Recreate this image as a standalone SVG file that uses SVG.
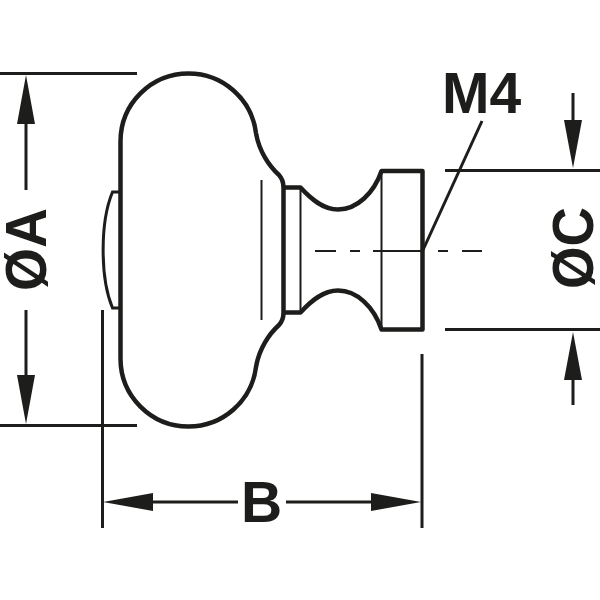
<svg xmlns="http://www.w3.org/2000/svg" width="600" height="600" viewBox="0 0 600 600">
<style>
.o{fill:none;stroke:#1d1d1b;stroke-width:4.500;stroke-linejoin:round}
.c{fill:none;stroke:#1d1d1b;stroke-width:3}
.t{fill:none;stroke:#1d1d1b;stroke-width:2}
.a{fill:#1d1d1b}
text{font-family:"Liberation Sans",Arial,sans-serif;font-weight:700;font-size:57px;fill:#1d1d1b}
</style>
<g id="knob">
<path class="o" d="M120.500 250V141.500A68 68 0 0 1 188.500 73.500A68 68 0 0 1 256 133C259 151 269 166 279 175Q283.500 180 283.500 187.500V312.500Q283.500 320 279 325C269 334 259 349 256 367A68 68 0 0 1 188.500 426.500A68 68 0 0 1 120.500 358.500Z"/>
<path class="c" d="M119 192H112.500C100 222 100 278 112.500 308H119"/>
<path class="t" d="M261.500 180V320"/>
<path class="o" d="M283.500 187.500H300.500C311 199 323 209.500 338 209.500C357 209.500 374 193 381.500 171H422.500V329.500H381.500C374 307 357 290.500 338 290.500C323 290.500 311 301 300.500 312.500H283.500"/>
<path class="t" d="M300.500 187.500V312.500M381.500 171V329.500"/>
<path class="t" d="M315 251H336M350 251H360M373 251H422M438 251H448M462 251H482"/>
</g>
<g id="connectors">
<path class="c" d="M0 73.500H137M0 425.500H137M26 124V190M26 310V375M102.500 310V528M422 354V528M153 502H238M286 502H371M445 170.500H600M445 329.500H600M573 93V120M573 380V405"/>
<path class="c" d="M423 250L482 121"/>
<path class="a" d="M26 75L35 124H17ZM26 424L35 375H17ZM103 502L153 493V511ZM421 502L371 493V511ZM573 168L564 120H582ZM573 332L564 380H582Z"/>
</g>
<g id="labels">
<text x="442" y="113">M4</text>
<text x="241" y="522">B</text>
<text transform="translate(46 291) rotate(-90)" textLength="83" lengthAdjust="spacingAndGlyphs">ØA</text>
<text transform="translate(592.500 289) rotate(-90)" textLength="82" lengthAdjust="spacingAndGlyphs">ØC</text>
</g>
</svg>
